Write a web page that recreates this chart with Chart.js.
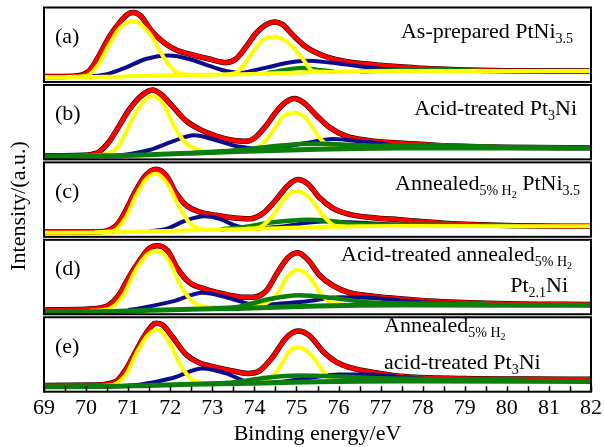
<!DOCTYPE html>
<html>
<head>
<meta charset="utf-8">
<script src="https://cdn.jsdelivr.net/npm/chart.js@4.4.1/dist/chart.umd.min.js"></script>
<style>
  html, body { margin: 0; padding: 0; background: #fff; }
</style>
</head>
<body>
<canvas id="xps" width="604" height="447"></canvas>
<script>
// Pt 4f XPS, five samples; intensities are in panel units (0 = bottom frame, 100 = top frame)
const energyTicks = [69, 70, 71, 72, 73, 74, 75, 76, 77, 78, 79, 80, 81, 82];
const halfTicks = [69.5, 70.5, 71.5, 72.5, 73.5, 74.5, 75.5, 76.5, 77.5, 78.5, 79.5, 80.5, 81.5];
const panelTags = ['(a)', '(b)', '(c)', '(d)', '(e)'];

// (a) As-prepared PtNi3.5
const aBgE = [69, 70.5, 71.5, 72.5, 73.5, 74.5, 75.5, 76.5, 77.5, 82];
const aBg = [8, 8.5, 10, 11, 11.6, 13, 14.8, 15.6, 16, 16];
const aFitE = [69, 69.7, 70.07, 70.31, 70.55, 70.79, 70.98, 71.13, 71.3, 71.54, 71.82, 72.13, 72.53, 72.93, 73.33, 73.56, 73.8, 74.04, 74.28, 74.48, 74.67, 74.91, 75.23, 75.63, 76.02, 76.5, 76.98, 77.45, 78, 79, 80, 82];
const aFit = [9, 9.3, 16, 36, 60, 78, 89, 91.5, 87, 69, 54, 43.5, 37, 31.5, 27, 31.5, 47, 65, 76, 79.5, 76, 62.7, 47, 36, 30, 26, 23.5, 21.7, 19.5, 17.5, 16.5, 16];
const aY1E = [69.5, 70.0, 70.3, 70.5, 70.8, 71.13, 71.5, 71.82, 72.06, 72.3, 72.8];
const aY1 = [8.2, 9.5, 25, 45, 71.5, 80.5, 65, 36, 18, 11.8, 11];
const aY2E = [73.3, 73.56, 73.75, 73.96, 74.2, 74.48, 74.83, 75.15, 75.39, 75.7];
const aY2 = [11.5, 13.8, 24, 40.4, 56, 60.4, 51.6, 31.5, 16, 15];
const aB1E = [69.8, 70.47, 70.94, 71.42, 71.97, 72.45, 72.93, 73.33, 73.64, 74];
const aB1 = [8.4, 11.6, 20.4, 31.6, 36, 31.6, 22.7, 16, 13.8, 13];
const aB2E = [73.64, 74.28, 74.83, 75.23, 75.79, 76.42, 76.98, 77.45, 78.2];
const aB2 = [12.5, 20.4, 27, 29.3, 27, 22.7, 19, 17.3, 16.2];
const aG1E = [74.3, 74.7, 75.1, 75.5, 75.9];
const aG1 = [13, 17, 20, 17.5, 15.2];
const aG2E = [76.5, 77.5, 78.5, 79.5];
const aG2 = [15.6, 17, 17.5, 16.2];

// (b) Acid-treated Pt3Ni
const bBgE = [69, 70.5, 71.5, 72.5, 73.6, 74.5, 75.5, 76.5, 77.5, 82];
const bBg = [5.8, 6.5, 8, 10, 12, 13.5, 15, 16, 16.5, 16.5];
const bFitE = [69, 69.9, 70.31, 70.55, 70.79, 71.02, 71.26, 71.46, 71.58, 71.78, 72.06, 72.37, 72.69, 73.09, 73.48, 73.8, 74.04, 74.28, 74.52, 74.75, 74.95, 75.15, 75.47, 75.79, 76.18, 76.66, 77.13, 77.45, 78.5, 80, 82];
const bFit = [6.5, 7.2, 11.7, 25, 45.5, 65.8, 81.5, 89.6, 91.5, 86, 70, 52, 41, 32, 26.6, 25.3, 31, 45.5, 63.5, 76, 80.6, 76, 59, 43, 32, 26.6, 24, 23, 19.5, 17.5, 17];
const bY1E = [70.0, 70.47, 70.79, 71.1, 71.34, 71.58, 71.82, 72.13, 72.37, 72.69, 73.0];
const bY1 = [6.5, 8.5, 20.7, 54.5, 74.7, 83.8, 74.7, 41, 23, 14, 12];
const bY2E = [73.7, 74.04, 74.36, 74.67, 74.95, 75.23, 75.55, 75.79, 76.02];
const bY2 = [13, 16, 32, 56.7, 62.6, 54.5, 29.7, 18.5, 16];
const bB1E = [70.5, 70.87, 71.5, 72.06, 72.57, 73.09, 73.56, 73.96];
const bB1 = [6.5, 7.5, 14, 25.3, 33, 26.6, 19.3, 16];
const bB2E = [73.96, 74.44, 75.23, 75.87, 76.5, 77.13, 77.45, 78.2, 78.8];
const bB2 = [14, 16, 23, 28.4, 25.3, 21.6, 18.5, 17, 16.5];
const bG1E = [72.5, 73.5, 74.3, 75.0, 75.6, 76.3, 77];
const bG1 = [10, 13.5, 18, 21.5, 22, 20.5, 19];
const bG2E = [76, 77, 78, 79, 80, 81];
const bG2 = [17, 19.5, 20.5, 19.5, 17.5, 16.8];

// (c) Annealed(5% H2) PtNi3.5
const cBgE = [69, 70.5, 71.5, 72.5, 73.6, 74.5, 75.5, 76.5, 77.5, 82];
const cBg = [7.2, 7.6, 9, 10.5, 11.7, 13, 14.5, 15.5, 16, 15.5];
const cFitE = [69, 70.2, 70.71, 70.95, 71.18, 71.42, 71.66, 71.9, 72.13, 72.37, 72.69, 73.09, 73.48, 73.88, 74.2, 74.52, 74.79, 75.03, 75.27, 75.55, 75.87, 76.26, 76.82, 77.45, 78.5, 80, 82];
const cFit = [8, 8.2, 16.2, 36.5, 61.2, 81.5, 89.2, 81.5, 59, 43.2, 34.2, 29.7, 26.6, 25.2, 32, 50, 68, 76, 70.3, 52.3, 38.8, 31, 26.6, 24, 19.5, 16.5, 15.5];
const cY1E = [70.2, 70.63, 70.95, 71.18, 71.42, 71.66, 71.94, 72.21, 72.45, 72.77, 73.0];
const cY1 = [7.8, 9, 27.5, 54.5, 76, 83.8, 70, 41, 20.7, 11.7, 10.8];
const cY2E = [73.8, 74.12, 74.44, 74.75, 75.03, 75.35, 75.63, 75.91, 76.18];
const cY2 = [12.5, 14, 29.7, 53.6, 61.2, 50, 29.7, 16.2, 15];
const cB1E = [71.5, 71.9, 72.37, 72.81, 73.17, 73.56, 73.88];
const cB1 = [9, 12, 23, 28.4, 25.2, 16.2, 12.6];
const cB2E = [74.0, 74.6, 75.63, 76.42, 77.45, 78.3];
const cB2 = [12.5, 14.9, 21.6, 20.3, 17.6, 16];
const cG1E = [73.2, 73.8, 74.44, 75.27, 75.79, 76.42, 77.21, 78.2, 79.2, 80.2];
const cG1 = [11.5, 14.9, 20.7, 24, 22.5, 18.5, 17.5, 17.5, 17, 16];

// (d) Acid-treated annealed(5% H2) Pt2.1Ni
const dBgE = [69, 70.5, 71.5, 72.5, 73.6, 74.5, 75.5, 76.5, 77.5, 82];
const dBg = [5, 5.5, 7, 8.5, 9.5, 11, 12.5, 13.5, 14, 13.5];
const dFitE = [69, 70.0, 70.47, 70.79, 71.02, 71.26, 71.5, 71.7, 71.94, 72.17, 72.45, 72.85, 73.25, 73.64, 73.96, 74.28, 74.56, 74.79, 75.03, 75.27, 75.55, 75.87, 76.26, 76.82, 77.45, 78.5, 80, 82];
const dFit = [7.5, 8.5, 11.7, 27.5, 50, 70.3, 86.9, 90.5, 83.8, 61.2, 43.2, 34.2, 28.4, 24.3, 23.9, 32, 56.7, 74.7, 81.5, 72.5, 52.3, 38.8, 29.7, 25.3, 22, 18, 15.5, 14.5];
const dY1E = [70.1, 70.55, 70.87, 71.18, 71.46, 71.7, 71.98, 72.25, 72.53, 72.85, 73.1];
const dY1 = [6.5, 9, 25.3, 59, 79.3, 83.8, 70.3, 38.8, 18.5, 11.7, 11];
const dY2E = [73.9, 74.28, 74.56, 74.79, 75.03, 75.31, 75.59, 75.83, 76.1];
const dY2 = [12, 16.2, 29.7, 50.9, 59, 50, 27.5, 16.2, 14.9];
const dB1E = [71.0, 71.26, 72.06, 72.77, 73.33, 73.8, 74.12];
const dB1 = [7.5, 9.5, 18.5, 29.7, 23.9, 16.2, 13];
const dB2E = [74.0, 74.44, 75.23, 76.02, 76.82, 77.45, 78.3, 79];
const dB2 = [11, 14.9, 18.5, 23.9, 23, 19.8, 16.5, 15];
const dG1E = [73.0, 73.64, 74.28, 75.07, 75.87, 76.66, 77.45, 78.5, 79.5];
const dG1 = [9.5, 11.7, 20.7, 26.6, 23, 17.5, 16, 15.5, 14.5];

// (e) Annealed(5% H2) acid-treated Pt3Ni
const eBgE = [69, 70.5, 71.5, 72.5, 73.6, 74.5, 75.5, 76.5, 77.5, 82];
const eBg = [8.2, 8.6, 10, 11.5, 12.5, 13.5, 14.8, 15.5, 15.8, 15];
const eFitE = [69, 70.2, 70.71, 70.95, 71.18, 71.42, 71.66, 71.82, 72.06, 72.37, 72.69, 73.09, 73.48, 73.84, 74.12, 74.44, 74.75, 75.03, 75.31, 75.63, 75.95, 76.42, 76.98, 77.45, 79, 80.5, 82];
const eFit = [10, 10.5, 15, 31, 53.8, 76.7, 90.4, 88, 72.2, 50.2, 39.3, 33.3, 28.8, 25.6, 28.8, 47, 71.2, 80.4, 74.4, 53.8, 40.1, 31, 25.6, 21.9, 19, 18.3, 18];
const eY1E = [70.2, 70.63, 70.95, 71.22, 71.46, 71.7, 71.98, 72.25, 72.53, 72.85, 73.1];
const eY1 = [9, 10.5, 24.2, 53.8, 74.4, 82.2, 65.3, 35.6, 17.4, 13, 12.5];
const eY2E = [73.9, 74.28, 74.6, 74.83, 75.03, 75.35, 75.63, 75.87, 76.1];
const eY2 = [13.2, 15, 33.3, 53.8, 59.3, 49.3, 28.8, 16.4, 15.2];
const eB1E = [70.8, 71.26, 72.06, 72.77, 73.33, 73.8, 74.12];
const eB1 = [9.3, 11, 19.6, 32, 25.6, 15, 13];
const eB2E = [74.0, 74.44, 75.23, 76.02, 76.82, 77.45, 78.3, 79.2];
const eB2 = [13, 13.7, 19, 24.2, 24, 21, 17.5, 16];
const eG1E = [72.8, 73.48, 74.28, 75.07, 76.02, 76.82, 77.6, 78.5, 79.5, 80.5];
const eG1 = [12, 13.7, 20, 22.8, 21.5, 19.5, 18.5, 18, 17, 16];

const RED = '#ff0000', YELLOW = '#ffff00', BLUE = '#0c0c8c', GREEN = '#0b7e0b', BLACK = '#000000';
const SERIF = '"Liberation Serif", "Times New Roman", serif';

const panels = [
  { axis: 'ya', top: 'yellow', bg: [aBgE, aBg], fit: [aFitE, aFit], yel: [[aY1E, aY1], [aY2E, aY2]], blu: [[aB1E, aB1], [aB2E, aB2]], grn: [[aG1E, aG1], [aG2E, aG2]] },
  { axis: 'yb', top: 'green', bg: [bBgE, bBg], fit: [bFitE, bFit], yel: [[bY1E, bY1], [bY2E, bY2]], blu: [[bB1E, bB1], [bB2E, bB2]], grn: [[bG1E, bG1], [bG2E, bG2]] },
  { axis: 'yc', top: 'yellow', bg: [cBgE, cBg], fit: [cFitE, cFit], yel: [[cY1E, cY1], [cY2E, cY2]], blu: [[cB1E, cB1], [cB2E, cB2]], grn: [[cG1E, cG1]] },
  { axis: 'yd', top: 'green', bg: [dBgE, dBg], fit: [dFitE, dFit], yel: [[dY1E, dY1], [dY2E, dY2]], blu: [[dB1E, dB1], [dB2E, dB2]], grn: [[dG1E, dG1]] },
  { axis: 'ye', top: 'green', bg: [eBgE, eBg], fit: [eFitE, eFit], yel: [[eY1E, eY1], [eY2E, eY2]], blu: [[eB1E, eB1], [eB2E, eB2]], grn: [[eG1E, eG1]] }
];

function series(pair, axis, color, width, order) {
  const [E, I] = pair;
  return {
    data: E.map((x, i) => ({ x: x, y: I[i] })),
    yAxisID: axis,
    borderColor: color,
    borderWidth: width,
    pointRadius: 0,
    fill: false,
    cubicInterpolationMode: 'monotone',
    order: order
  };
}

const datasets = [];
panels.forEach(p => {
  const yellowOnTop = p.top === 'yellow';
  datasets.push(series(p.fit, p.axis, BLACK, 5.5, 6));
  datasets.push(series(p.fit, p.axis, RED, 4.5, 5));
  p.blu.forEach(c => datasets.push(series(c, p.axis, BLUE, 4, 4)));
  p.yel.forEach(c => datasets.push(series(c, p.axis, YELLOW, 4, yellowOnTop ? 2 : 3)));
  p.grn.forEach(c => datasets.push(series(c, p.axis, GREEN, 4.5, yellowOnTop ? 3 : 2)));
  datasets.push(series(p.bg, p.axis, yellowOnTop ? YELLOW : GREEN, yellowOnTop ? 4 : 5, 1));
});

// stacked panel axes: the last one added is laid out on top, so add (e) first
const panelScale = {
  type: 'linear', position: 'left', stack: 'panels', stackWeight: 1, min: 0, max: 100,
  ticks: { display: false }, grid: { display: false, drawTicks: false }, border: { display: false }
};
const yScales = {};
panels.slice().reverse().forEach(p => { yScales[p.axis] = Object.assign({}, panelScale); });

// sample names, drawn with subscripts: [text, level] (0 normal, 1 subscript, 2 sub-subscript)
const titles = [
  [{ runs: [['As-prepared PtNi', 0], ['3.5', 1]], x: 573, dy: 32, align: 'right' }],
  [{ runs: [['Acid-treated Pt', 0], ['3', 1], ['Ni', 0]], x: 577, dy: 32, align: 'right' }],
  [{ runs: [['Annealed', 0], ['5% H', 1], ['2', 2], [' PtNi', 0], ['3.5', 1]], x: 580, dy: 29, align: 'right' }],
  [{ runs: [['Acid-treated annealed', 0], ['5% H', 1], ['2', 2]], x: 572, dy: 23, align: 'right' },
   { runs: [['Pt', 0], ['2.1', 1], ['Ni', 0]], x: 568, dy: 54, align: 'right' }],
  [{ runs: [['Annealed', 0], ['5% H', 1], ['2', 2]], x: 384, dy: 16, align: 'left' },
   { runs: [['acid-treated Pt', 0], ['3', 1], ['Ni', 0]], x: 384, dy: 53, align: 'left' }]
];

function drawRuns(ctx, runs, x, y, align) {
  const sizes = [22, 14, 10];
  const shifts = [0, 5, 8];
  let total = 0;
  runs.forEach(r => { ctx.font = sizes[r[1]] + 'px ' + SERIF; total += ctx.measureText(r[0]).width; });
  let cx = align === 'right' ? x - total : x;
  ctx.textAlign = 'left';
  ctx.textBaseline = 'alphabetic';
  runs.forEach(r => {
    ctx.font = sizes[r[1]] + 'px ' + SERIF;
    ctx.fillText(r[0], cx, y + shifts[r[1]]);
    cx += ctx.measureText(r[0]).width;
  });
}

const decor = {
  id: 'decor',
  afterDraw(chart) {
    const { ctx, chartArea, scales } = chart;
    ctx.save();
    ctx.strokeStyle = BLACK;
    ctx.fillStyle = BLACK;
    ctx.lineWidth = 2;
    panels.forEach((p, i) => {
      const s = scales[p.axis];
      ctx.strokeRect(chartArea.left, s.top + 1.5, chartArea.right - chartArea.left, s.bottom - s.top - 3);
      ctx.font = '22px ' + SERIF;
      ctx.textAlign = 'left';
      ctx.textBaseline = 'alphabetic';
      ctx.fillText(panelTags[i], chartArea.left + 11, s.top + 37);
      titles[i].forEach(t => drawRuns(ctx, t.runs, t.x, s.top + t.dy, t.align));
    });
    // inward tick marks on the bottom axis
    const xs = scales.x;
    ctx.lineWidth = 1.5;
    ctx.beginPath();
    energyTicks.concat(halfTicks).forEach(v => {
      const px = Math.round(xs.getPixelForValue(v)) + 0.5;
      ctx.moveTo(px, chartArea.bottom - 1);
      ctx.lineTo(px, chartArea.bottom - 7);
    });
    ctx.stroke();
    // y title
    ctx.translate(19, 206);
    ctx.rotate(-Math.PI / 2);
    ctx.font = '22px ' + SERIF;
    ctx.textAlign = 'center';
    ctx.textBaseline = 'middle';
    ctx.fillText('Intensity/(a.u.)', 0, 0);
    ctx.restore();
  }
};

new Chart(document.getElementById('xps'), {
  type: 'line',
  data: { datasets: datasets },
  options: {
    responsive: false,
    animation: false,
    events: [],
    layout: { padding: { left: 44, right: 12, top: 6, bottom: 0 } },
    plugins: { legend: { display: false }, tooltip: { enabled: false } },
    scales: Object.assign({
      x: {
        type: 'linear', min: 69, max: 82,
        afterBuildTicks: s => { s.ticks = energyTicks.map(v => ({ value: v })); },
        ticks: { color: BLACK, padding: 2, maxRotation: 0, font: { family: SERIF, size: 22 } },
        grid: { display: false, drawTicks: false },
        border: { display: false },
        title: { display: true, text: 'Binding energy/eV', color: BLACK, padding: { top: -3, bottom: 0 }, font: { family: SERIF, size: 22 } }
      }
    }, yScales)
  },
  plugins: [decor]
});
</script>
</body>
</html>
